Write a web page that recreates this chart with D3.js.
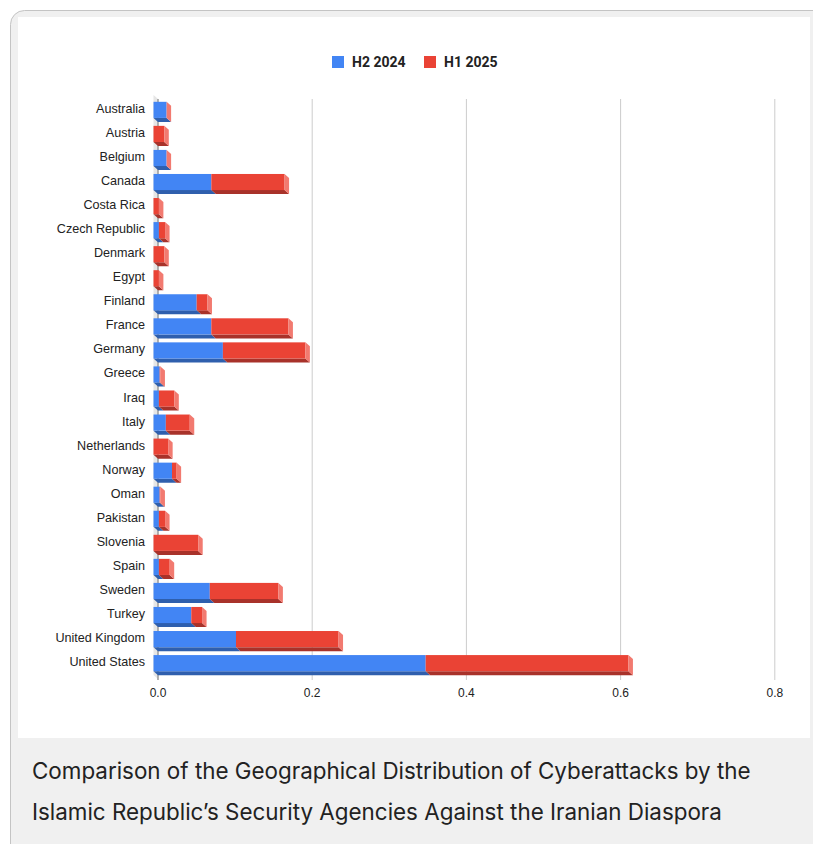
<!DOCTYPE html>
<html>
<head>
<meta charset="utf-8">
<script src="https://cdn.jsdelivr.net/npm/d3@7"></script>
<style>
  html, body { margin: 0; padding: 0; background: #ffffff; }
  svg { display: block; }
</style>
</head>
<body>
<svg id="chart" width="813" height="844"></svg>
<script>
// Share of cyberattacks by target country, per half-year
const countries = [
  "Australia", "Austria", "Belgium", "Canada", "Costa Rica", "Czech Republic",
  "Denmark", "Egypt", "Finland", "France", "Germany", "Greece", "Iraq", "Italy",
  "Netherlands", "Norway", "Oman", "Pakistan", "Slovenia", "Spain", "Sweden",
  "Turkey", "United Kingdom", "United States"
];
const h2_2024 = [
  0.017, 0, 0.017, 0.075, 0, 0.007,
  0, 0, 0.056, 0.075, 0.090, 0.008, 0.007, 0.016,
  0, 0.024, 0.008, 0.007, 0, 0.007, 0.073,
  0.049, 0.107, 0.353
];
const h1_2025 = [
  0, 0.014, 0, 0.095, 0.007, 0.008,
  0.014, 0.007, 0.014, 0.100, 0.107, 0.001, 0.020, 0.031,
  0.019, 0.006, 0.001, 0.008, 0.058, 0.014, 0.089,
  0.014, 0.133, 0.263
];
const seriesNames = ["H2 2024", "H1 2025"];
const xTicks = [0, 0.2, 0.4, 0.6, 0.8];
const captionLines = [
  "Comparison of the Geographical Distribution of Cyberattacks by the",
  "Islamic Republic\u2019s Security Agencies Against the Iranian Diaspora"
];

const colors = {
  front: ["#4285f4", "#ea4335"],
  bottom: ["#2f5fad", "#a8322a"],
  side: "#f27a70"
};

const svg = d3.select("#chart");

// Card frame
svg.append("rect")
  .attr("x", 10.5).attr("y", 10.5).attr("width", 830).attr("height", 860)
  .attr("rx", 14).attr("fill", "#f0f0f0").attr("stroke", "#c4c4c4");
svg.append("rect")
  .attr("x", 18).attr("y", 17).attr("width", 792).attr("height", 721)
  .attr("fill", "#ffffff");

// 3D depth offset between the front plane and the back plane
const dx = 4.5, dy = 4;

const x = d3.scaleLinear().domain([0, 0.8]).range([158, 774.8]); // back plane
const fx = v => x(v) - dx;                                     // front plane
const y = d3.scaleBand().domain(countries).range([97, 676]).paddingInner(0.33).paddingOuter(0.2);

const plotTop = 95, plotBottom = 675;

// Left wall
svg.append("polygon")
  .attr("points", [
    [fx(0), plotTop], [x(0), plotTop + dy], [x(0), plotBottom + dy], [fx(0), plotBottom]
  ].map(p => p.join(",")).join(" "))
  .attr("fill", "#e6e6e6");

// Gridlines on the back plane
svg.append("g").selectAll("line")
  .data(xTicks)
  .join("line")
  .attr("x1", d => x(d)).attr("x2", d => x(d))
  .attr("y1", plotTop + dy).attr("y2", plotBottom + dy + 1)
  .attr("stroke", d => d === 0 ? "#9a9a9a" : "#cccccc")
  .attr("stroke-width", d => d === 0 ? 1.5 : 1);

// Tick labels
svg.append("g").selectAll("text")
  .data(xTicks)
  .join("text")
  .attr("x", d => x(d)).attr("y", 697)
  .attr("text-anchor", "middle")
  .attr("font-family", "'Liberation Sans', Arial, sans-serif")
  .attr("font-size", 12).attr("fill", "#222")
  .text(d => d3.format(".1f")(d));

// Category labels
svg.append("g").selectAll("text")
  .data(countries)
  .join("text")
  .attr("x", 145)
  .attr("y", d => y(d) + y.bandwidth() / 2 + 3)
  .attr("text-anchor", "end")
  .attr("font-family", "'Liberation Sans', Arial, sans-serif")
  .attr("font-size", 12.6).attr("fill", "#222")
  .text(d => d);

// Stacked 3D bars
const stackData = countries.map((c, i) => ({ country: c, s0: h2_2024[i], s1: h1_2025[i] }));
const stacked = d3.stack().keys(["s0", "s1"])(stackData);

const bars = svg.append("g");
const poly = pts => pts.map(p => p.join(",")).join(" ");

stacked.forEach((layer, li) => {
  layer.forEach(seg => {
    const c = seg.data.country;
    const x0 = fx(seg[0]), x1 = fx(seg[1]);
    const yt = y(c), yb = y(c) + y.bandwidth();
    if (x1 - x0 > 0) {
      bars.append("polygon")
        .attr("points", poly([[x0, yb], [x1, yb], [x1 + dx, yb + dy], [x0 + dx, yb + dy]]))
        .attr("fill", colors.bottom[li]);
      bars.append("rect")
        .attr("x", x0).attr("y", yt)
        .attr("width", x1 - x0).attr("height", yb - yt)
        .attr("fill", colors.front[li]);
    }
  });
});

// Right side face at the end of each stack
stackData.forEach(d => {
  const xe = fx(d.s0 + d.s1);
  const yt = y(d.country), yb = yt + y.bandwidth();
  bars.append("polygon")
    .attr("points", poly([[xe, yt], [xe + dx, yt + dy], [xe + dx, yb + dy], [xe, yb]]))
    .attr("fill", colors.side);
});

// Legend
const legend = svg.append("g");
const legendItems = [
  { name: seriesNames[0], color: colors.front[0], x: 332 },
  { name: seriesNames[1], color: colors.front[1], x: 424 }
];
legendItems.forEach(it => {
  legend.append("rect")
    .attr("x", it.x).attr("y", 56).attr("width", 12).attr("height", 12)
    .attr("fill", it.color);
  legend.append("text")
    .attr("x", it.x + 20).attr("y", 67)
    .attr("font-family", "Roboto, 'Liberation Sans', sans-serif")
    .attr("font-weight", 700).attr("font-size", 14).attr("fill", "#222")
    .text(it.name);
});

// Caption
svg.append("g").selectAll("text")
  .data(captionLines)
  .join("text")
  .attr("x", 32)
  .attr("y", (d, i) => 779 + i * 41)
  .attr("font-family", "Inter, 'Open Sans', sans-serif")
  .attr("font-size", 22.4).attr("fill", "#222")
  .text(d => d);
</script>
</body>
</html>
